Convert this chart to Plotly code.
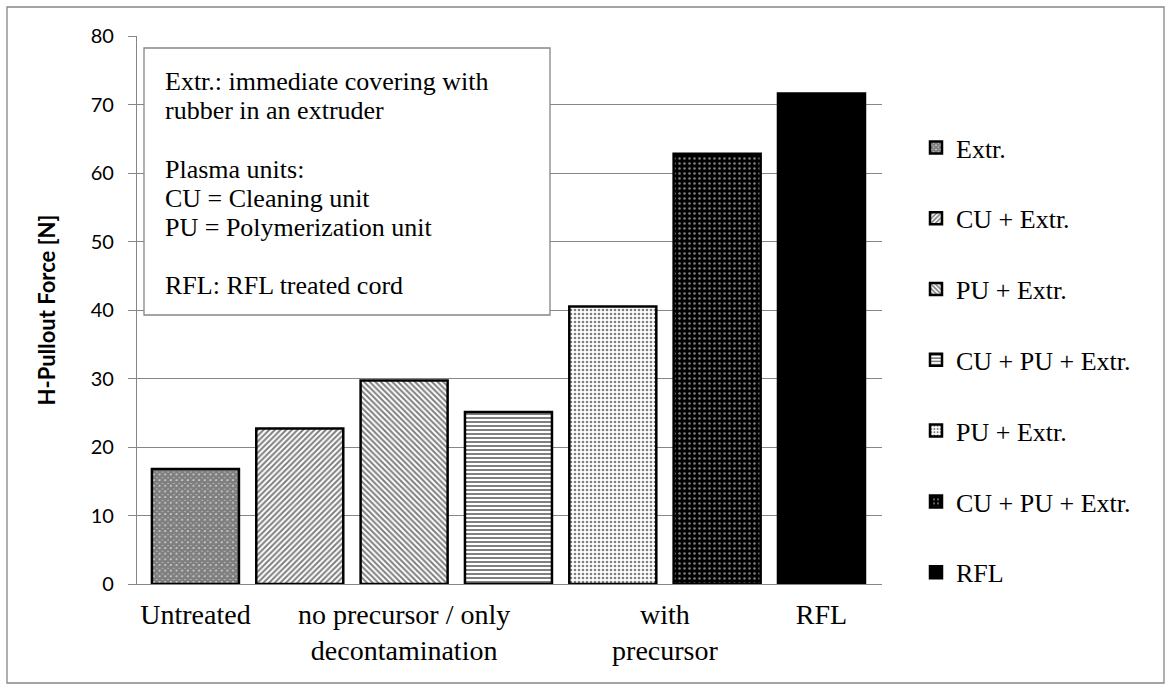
import plotly.graph_objects as go

# ---- data ----
series_names = ["Extr.", "CU + Extr.", "PU + Extr.", "CU + PU + Extr.",
                "PU + Extr.", "CU + PU + Extr.", "RFL"]
bar_positions = [0, 1, 2, 3, 4, 5, 6]
pullout_force = [16.8, 22.7, 29.7, 25.1, 40.5, 62.8, 71.6]
category_positions = [0, 2, 4.5, 6]
category_labels = ["Untreated", "no precursor / only<br>decontamination",
                   "with<br>precursor", "RFL"]
note_lines = ["Extr.: immediate covering with", "rubber in an extruder", "",
              "Plasma units:", "CU = Cleaning unit", "PU = Polymerization unit", "",
              "RFL: RFL treated cord"]

# ---- styles ----
patterns = [
    dict(shape="x", size=4, solidity=0.9, fgcolor="black", bgcolor="white"),
    dict(shape="/", size=4, solidity=0.5, fgcolor="black", bgcolor="white"),
    dict(shape="\\", size=4, solidity=0.5, fgcolor="black", bgcolor="white"),
    dict(shape="-", size=4, solidity=0.5, fgcolor="black", bgcolor="white"),
    dict(shape=".", size=4, solidity=0.35, fgcolor="black", bgcolor="white"),
    dict(shape=".", size=5, solidity=0.2, fgcolor="white", bgcolor="black"),
    dict(shape="", fgcolor="black", bgcolor="black"),
]

SERIF = "Liberation Serif, Times New Roman, serif"
SANS = "Lato, Open Sans, sans-serif"
GRID = "#868686"

W, H = 1169, 690
L, R, T, B = 137, 882, 36, 584


def px(x):
    return (x - L) / (R - L)


def py(y):
    return (B - y) / (B - T)


fig = go.Figure()
for i, (name, xpos, val) in enumerate(zip(series_names, bar_positions, pullout_force)):
    fig.add_trace(go.Bar(
        x=[xpos], y=[val], name=name, width=0.834,
        legendgroup=f"g{i}",
        marker=dict(color="black" if i == 6 else "white",
                    pattern=patterns[i],
                    line=dict(color="black", width=2.5)),
        hoverinfo="y+name",
    ))

fig.update_layout(
    width=W, height=H,
    margin=dict(l=L, r=W - R, t=T, b=H - B),
    paper_bgcolor="white", plot_bgcolor="white",
    barmode="overlay",
    showlegend=True,
    legend=dict(x=px(916), y=py(124), xanchor="left", yanchor="top",
                font=dict(family=SERIF, size=26, color="black"),
                tracegroupgap=34, itemwidth=30, bgcolor="rgba(0,0,0,0)"),
    xaxis=dict(range=[-0.56, 6.58], tickvals=category_positions,
               ticktext=category_labels, showgrid=False, zeroline=False,
               showline=True, linecolor=GRID, linewidth=1.3, ticks="",
               ticklabelstandoff=5,
               tickfont=dict(family=SERIF, size=28, color="black")),
    yaxis=dict(range=[0, 80], dtick=10, showgrid=True, gridcolor=GRID,
               gridwidth=1.3, zeroline=False, showline=True, linecolor=GRID,
               linewidth=1.3, ticks="outside", ticklen=8, tickcolor=GRID,
               ticklabelstandoff=10,
               tickfont=dict(family=SANS, size=20, color="black"),
               title=dict(text="<b>H-Pullout Force [N]</b>", standoff=28,
                          font=dict(family=SANS, size=22, color="black"))),
)

# outer chart frame
fig.add_shape(type="rect", xref="paper", yref="paper",
              x0=px(7), x1=px(1164), y0=py(683), y1=py(7),
              line=dict(color=GRID, width=1.3), layer="below")

# note box
fig.add_shape(type="rect", xref="paper", yref="paper",
              x0=px(144), x1=px(550), y0=py(315), y1=py(48),
              line=dict(color=GRID, width=1.3), fillcolor="white", layer="above")

for k, line in enumerate(note_lines):
    if not line:
        continue
    fig.add_annotation(xref="paper", yref="paper", x=px(163), y=py(82 + 29 * k),
                       xanchor="left", yanchor="middle", align="left",
                       showarrow=False, text=line,
                       font=dict(family=SERIF, size=26, color="black"))

fig.write_html("out.html")
